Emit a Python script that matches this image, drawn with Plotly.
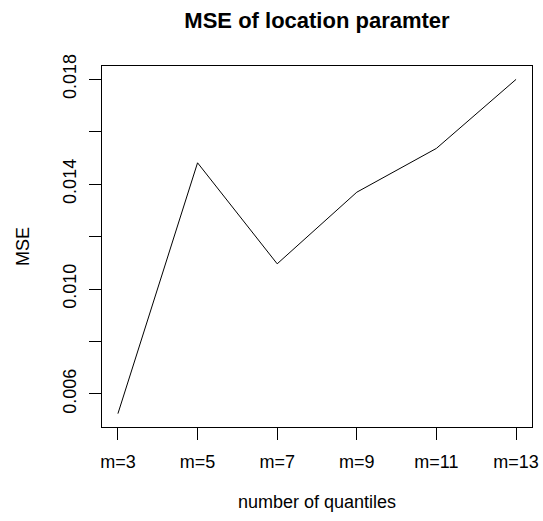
import plotly.graph_objects as go

# MSE of the location parameter for each number of quantiles
categories = ["m=3", "m=5", "m=7", "m=9", "m=11", "m=13"]
mse = [0.00525, 0.01481, 0.01096, 0.01369, 0.01536, 0.01799]
y_ticks = [0.006, 0.008, 0.010, 0.012, 0.014, 0.016, 0.018]
y_tick_labels = ["0.006", "", "0.010", "", "0.014", "", "0.018"]

W, H = 543, 521
FONT = "Liberation Sans, Arial, sans-serif"

x_pos = list(range(len(categories)))

# R-style 4% padding around the data range
ymin, ymax = min(mse), max(mse)
ypad = 0.04 * (ymax - ymin)
xpad = 0.04 * (len(categories) - 1)

fig = go.Figure(
    go.Scatter(
        x=x_pos,
        y=mse,
        mode="lines",
        line=dict(color="black", width=1),
        hoverinfo="skip",
    )
)

axis_common = dict(
    showline=True,
    mirror=True,
    linecolor="black",
    linewidth=1,
    showgrid=False,
    zeroline=False,
    ticks="outside",
    ticklen=12,
    tickwidth=1,
    tickcolor="black",
    tickfont=dict(family=FONT, size=18, color="black"),
    automargin=False,
)

fig.update_layout(
    width=W,
    height=H,
    margin=dict(l=102, r=11, t=66, b=94),
    paper_bgcolor="white",
    plot_bgcolor="white",
    showlegend=False,
    title=dict(
        text="<b>MSE of location paramter</b>",
        font=dict(family=FONT, size=22, color="black"),
        x=(102 + 532) / 2 / W,
        xref="container",
        xanchor="center",
        y=1 - 20 / H,
        yref="container",
        yanchor="middle",
    ),
    xaxis=dict(
        **axis_common,
        range=[-xpad, len(categories) - 1 + xpad],
        tickmode="array",
        tickvals=x_pos,
        ticktext=categories,
        ticklabelstandoff=6,
        title=dict(
            text="number of quantiles",
            font=dict(family=FONT, size=18, color="black"),
            standoff=24,
        ),
    ),
    yaxis=dict(
        **axis_common,
        range=[ymin - ypad, ymax + ypad],
        tickmode="array",
        tickvals=y_ticks,
        ticktext=y_tick_labels,
        tickangle=-90,
        ticklabelstandoff=6,
        title=dict(
            text="MSE",
            font=dict(family=FONT, size=18, color="black"),
            standoff=25,
        ),
    ),
)

fig.write_html("out.html")
